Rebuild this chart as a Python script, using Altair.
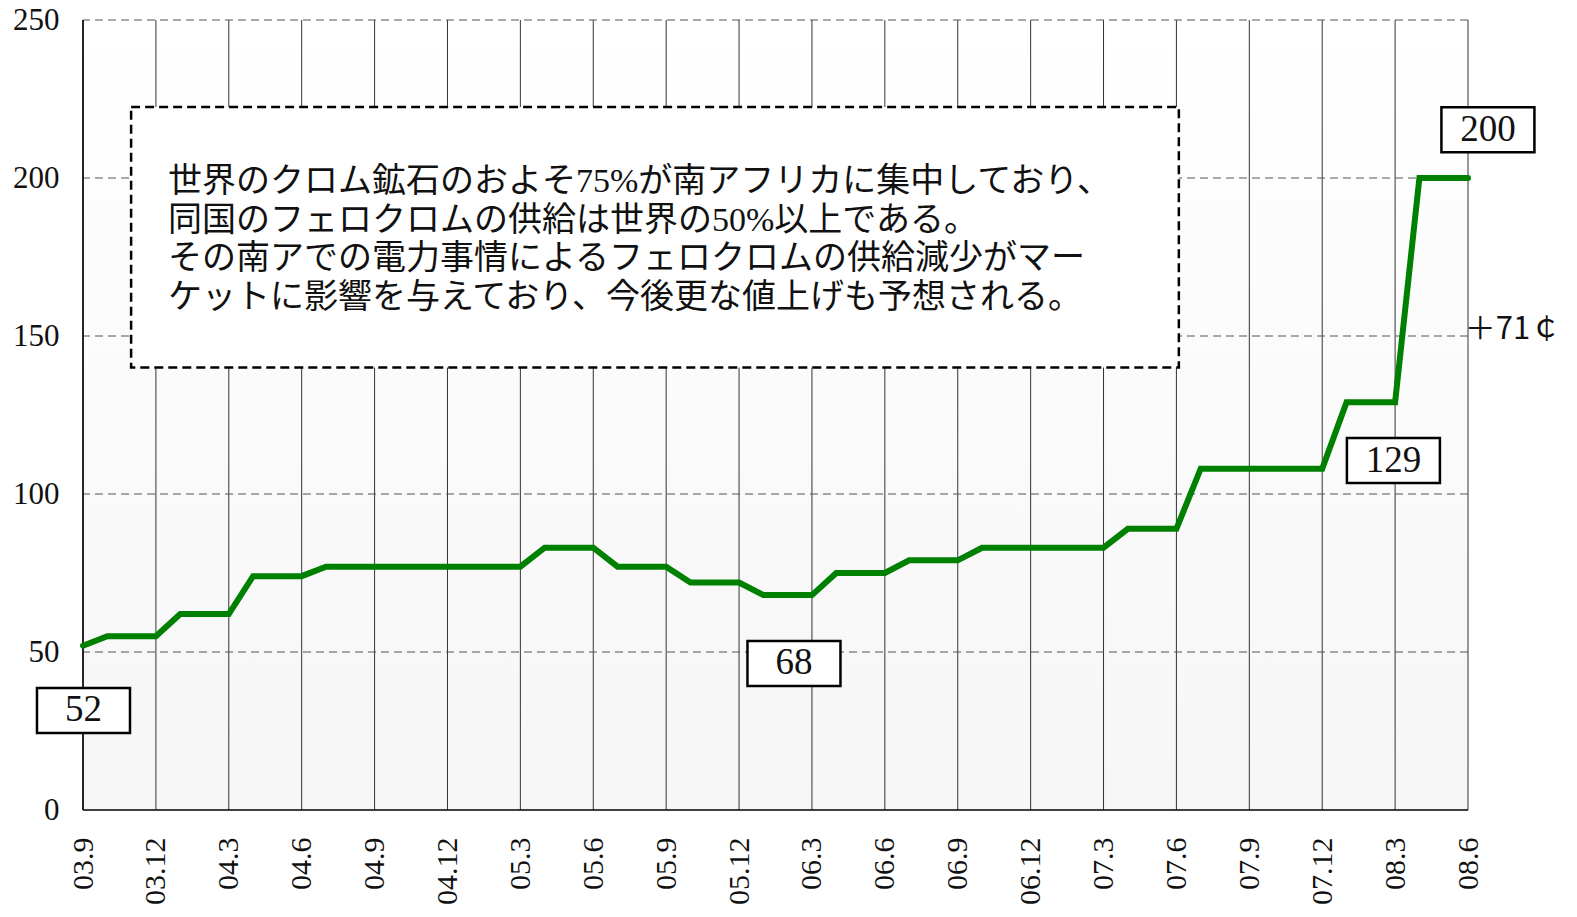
import altair as alt
import pandas as pd

# ---- data -------------------------------------------------------------
quarter_labels = ["03.9", "03.12", "04.3", "04.6", "04.9", "04.12", "05.3", "05.6",
                  "05.9", "05.12", "06.3", "06.6", "06.9", "06.12", "07.3", "07.6",
                  "07.9", "07.12", "08.3", "08.6"]
# monthly price, 2003.9 .. 2008.6
prices = [52,
          55, 55, 55,
          62, 62, 62,
          74, 74, 74,
          77, 77, 77, 77, 77, 77, 77, 77, 77,
          83, 83, 83,
          77, 77, 77,
          72, 72, 72,
          68, 68, 68,
          75, 75, 75,
          79, 79, 79,
          83, 83, 83, 83, 83, 83,
          89, 89, 89,
          108, 108, 108, 108, 108, 108,
          129, 129, 129,
          200, 200, 200]
y_ticks = [0, 50, 100, 150, 200, 250]
grid_y = [50, 100, 150, 200, 250]

callout_text = ["52", "68", "129", "200"]
callout_x = [0.02, 29.26, 53.93, 57.82]
callout_y = [31.5, 46.4, 110.6, 215.3]

note_lines = [
    "世界のクロム鉱石のおよそ75%が南アフリカに集中しており、",
    "同国のフェロクロムの供給は世界の50%以上である。",
    "その南アでの電力事情によるフェロクロムの供給減少がマー",
    "ケットに影響を与えており、今後更な値上げも予想される。",
]
note_box = {"x1": 1.98, "x2": 45.1, "y1": 140.0, "y2": 222.5}
note_pos = {"x": 3.5, "y": 198.7}

delta_text = "＋71￠"
delta_pos = {"x": 56.87, "y": 152.0}

# ---- settings ---------------------------------------------------------
W, H = 1385, 790
SERIF = "Liberation Serif"
JP = "Liberation Serif, Noto Sans CJK JP"

xs = alt.Scale(domain=[0, len(prices) - 1], nice=False, zero=False)
ys = alt.Scale(domain=[0, 250], nice=False)

label_expr = "[" + ",".join("'" + s + "'" for s in quarter_labels) + "][round(datum.value/3)]"
x_axis = alt.Axis(values=[i * 3 for i in range(len(quarter_labels))],
                  labelExpr=label_expr, labelAngle=270,
                  labelFont=SERIF, labelFontSize=30, labelColor="#111111",
                  labelPadding=27, ticks=False, domain=False, grid=False,
                  labelOverlap=False, title="")
y_axis = alt.Axis(values=y_ticks, labelFont=SERIF, labelFontSize=31,
                  labelColor="#111111", labelPadding=24, ticks=False,
                  domain=False, grid=False, title="")


def X(field):
    return alt.X(field, scale=xs, axis=x_axis)


def Y(field):
    return alt.Y(field, scale=ys, axis=y_axis)


line_df = pd.DataFrame({"m": list(range(len(prices))), "v": prices})
vgrid_df = pd.DataFrame({"m": [i * 3 for i in range(len(quarter_labels))]})
hgrid_df = pd.DataFrame({"v": grid_y})
callout_df = pd.DataFrame({"t": callout_text, "cx": callout_x, "cy": callout_y})
note_box_df = pd.DataFrame([note_box])
note_df = pd.DataFrame([{"x": note_pos["x"], "y": note_pos["y"], "t": "\n".join(note_lines)}])
delta_df = pd.DataFrame([{"x": delta_pos["x"], "y": delta_pos["y"], "t": delta_text}])

bg = alt.Chart(pd.DataFrame({"a": [0]})).mark_rect(
    fill=alt.LinearGradient(
        gradient="linear",
        stops=[alt.GradientStop(color="#ffffff", offset=0),
               alt.GradientStop(color="#f6f6f6", offset=1)],
        x1=0, x2=0, y1=0, y2=1,
    )
).encode(x=alt.value(0), x2=alt.value(W), y=alt.value(0), y2=alt.value(H))

vgrid = alt.Chart(vgrid_df).mark_rule(color="#333333", strokeWidth=1).encode(x=X("m:Q"))
hgrid = alt.Chart(hgrid_df).mark_rule(color="#555555", strokeWidth=1, strokeDash=[8, 5]).encode(
    y=Y("v:Q")
)
frame_bottom = alt.Chart(pd.DataFrame({"v": [0]})).mark_rule(color="black", strokeWidth=1.5).encode(
    y=Y("v:Q")
)
frame_left = alt.Chart(pd.DataFrame({"m": [0]})).mark_rule(color="black", strokeWidth=1.5).encode(
    x=X("m:Q")
)

nbox = alt.Chart(note_box_df).mark_rect(
    fill="white", stroke="black", strokeWidth=2.5, strokeDash=[9, 5]
).encode(x=X("x1:Q"), x2="x2:Q", y=Y("y1:Q"), y2="y2:Q")

ntext = alt.Chart(note_df).mark_text(
    align="left", baseline="middle", font=JP, fontSize=34, lineHeight=38.5,
    lineBreak="\n", color="#111111"
).encode(x=X("x:Q"), y=Y("y:Q"), text="t:N")

line = alt.Chart(line_df).mark_line(
    color="#008000", strokeWidth=6, strokeCap="round"
).encode(x=X("m:Q"), y=Y("v:Q"))

cbox = alt.Chart(callout_df).mark_rect(
    fill="white", stroke="black", strokeWidth=2.5,
    xOffset=-46.5, x2Offset=46.5, yOffset=-22.5, y2Offset=22.5,
).encode(x=X("cx:Q"), x2="cx:Q", y=Y("cy:Q"), y2="cy:Q")

ctext = alt.Chart(callout_df).mark_text(
    align="center", baseline="middle", font=SERIF, fontSize=37, color="#111111"
).encode(x=X("cx:Q"), y=Y("cy:Q"), text="t:N")

dtext = alt.Chart(delta_df).mark_text(
    align="left", baseline="middle", font="Noto Sans CJK JP", fontSize=31, color="#111111"
).encode(x=X("x:Q"), y=Y("y:Q"), text="t:N")

chart = alt.layer(
    bg, vgrid, hgrid, frame_bottom, frame_left, nbox, ntext, line, cbox, ctext, dtext
).properties(
    width=W, height=H,
    autosize=alt.AutoSizeParams(type="none"),
    padding={"left": 75, "top": 12, "right": 101, "bottom": 97},
).configure_view(stroke="transparent")

chart.save("out.html", embed_options={"renderer": "svg", "actions": False})
